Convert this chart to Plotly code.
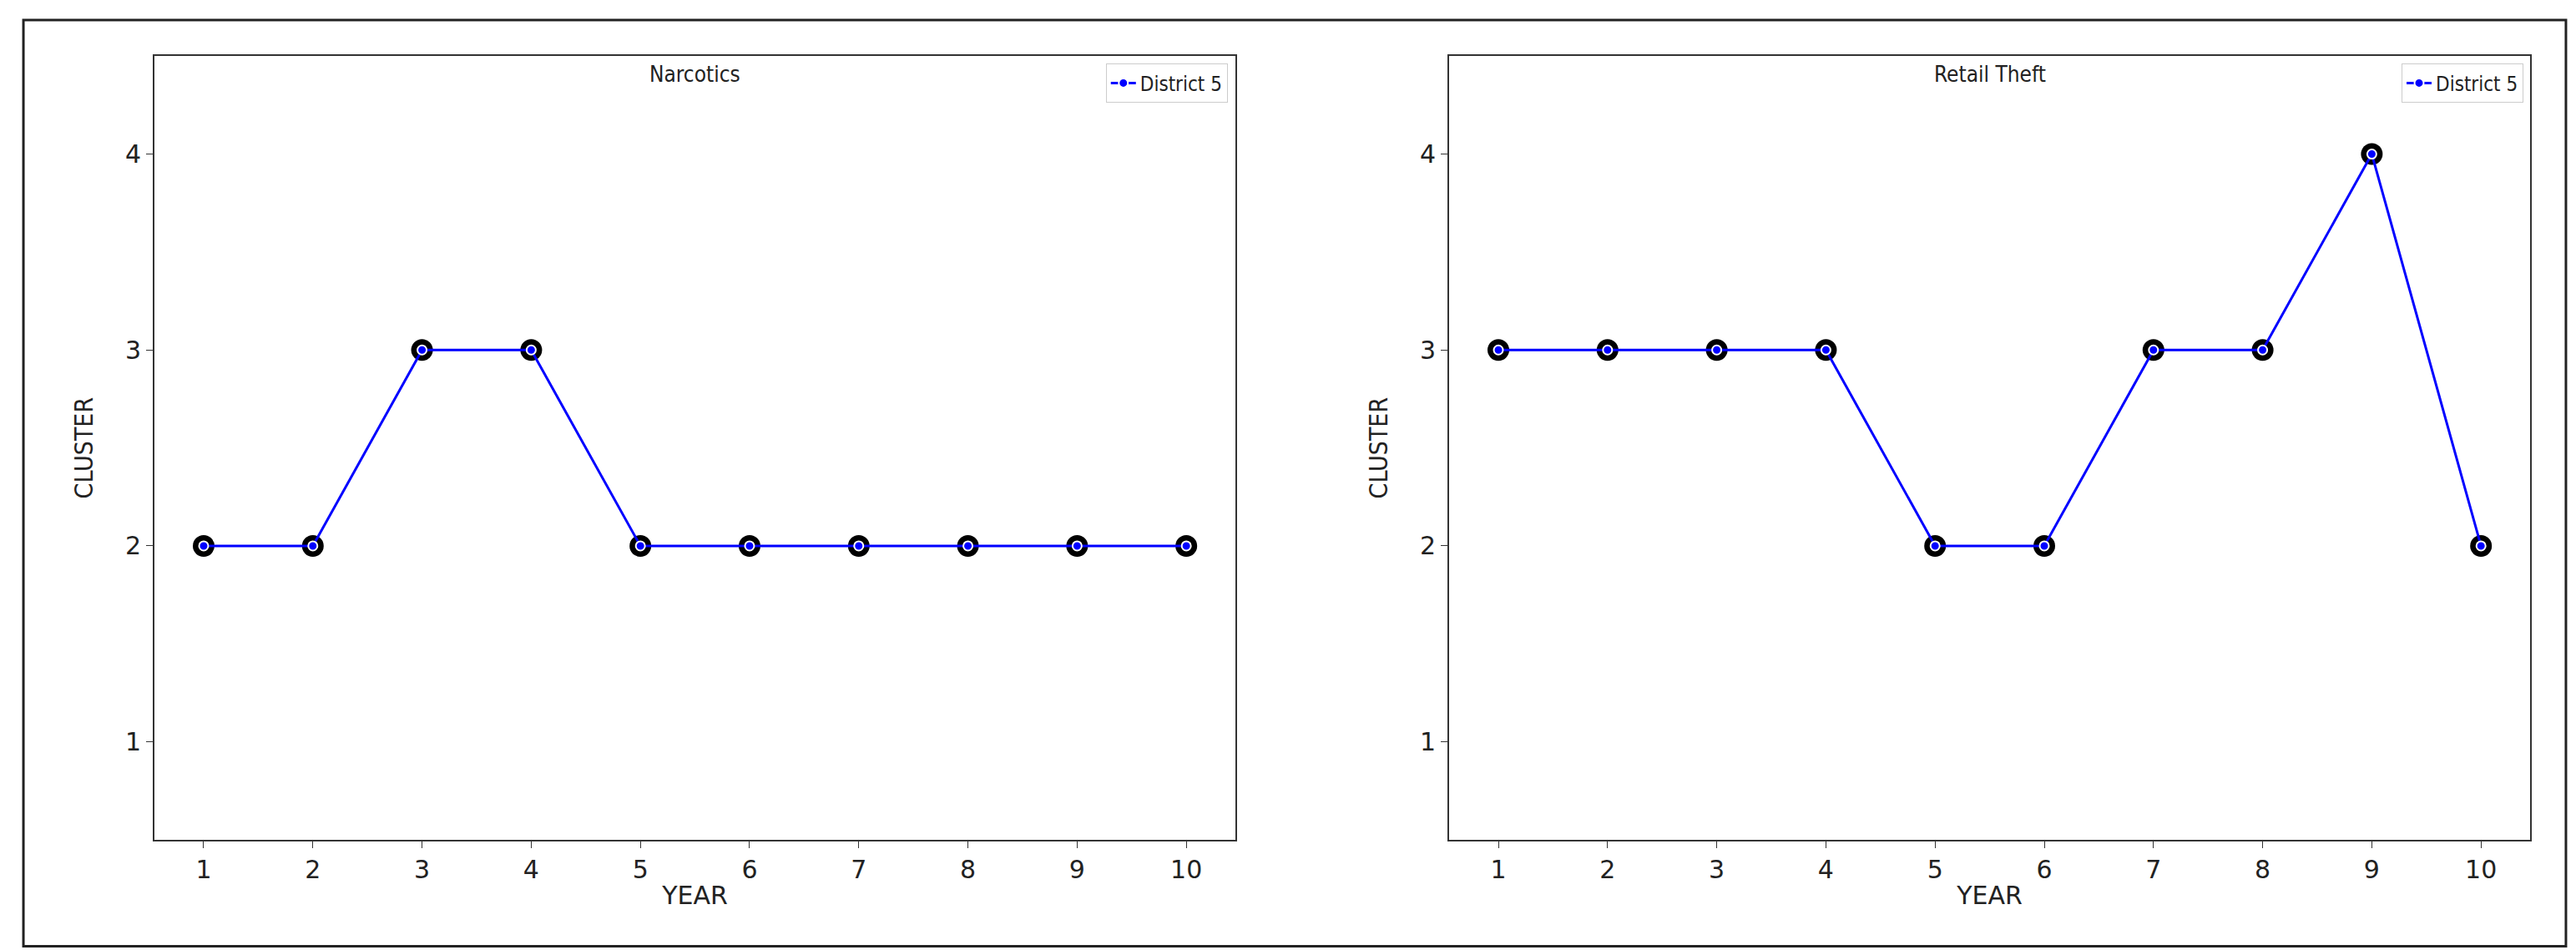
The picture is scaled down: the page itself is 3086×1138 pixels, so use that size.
import plotly.graph_objects as go

years = [1, 2, 3, 4, 5, 6, 7, 8, 9, 10]
narcotics = [2, 2, 3, 3, 2, 2, 2, 2, 2, 2]
retail_theft = [3, 3, 3, 3, 2, 2, 3, 3, 4, 2]
titles = ["Narcotics", "Retail Theft"]
series_name = "District 5"
yticks = [1, 2, 3, 4]

fig = go.Figure()
doms = [[0.0574, 0.477], [0.56, 0.9796]]
for i, (vals, title) in enumerate(zip([narcotics, retail_theft], titles)):
    xa = "x" if i == 0 else "x2"
    ya = "y" if i == 0 else "y2"
    fig.add_trace(go.Scatter(x=years, y=vals, mode="markers", xaxis=xa, yaxis=ya,
                             marker=dict(color="black", size=26), showlegend=False, hoverinfo="skip"))
    fig.add_trace(go.Scatter(x=years, y=vals, mode="lines+markers", xaxis=xa, yaxis=ya,
                             name=series_name, line=dict(color="blue", width=3),
                             marker=dict(color="blue", size=11, line=dict(color="white", width=2)),
                             legend="legend" if i == 0 else "legend2"))
    ax = dict(domain=doms[i], range=[0.55, 10.45], tickvals=years, showgrid=False, zeroline=False,
              showline=True, mirror=True, linecolor="#333", linewidth=2, ticks="outside",
              ticklen=8, tickcolor="#333", tickfont=dict(size=30, color="#222", family="DejaVu Sans"),
              title=dict(text="YEAR", font=dict(size=30, family="DejaVu Sans", color="#222"), standoff=4))
    ay = dict(domain=[0.123, 0.948], range=[0.5, 4.5], tickvals=yticks, showgrid=False, zeroline=False,
              showline=True, mirror=True, linecolor="#333", linewidth=2, ticks="outside",
              ticklen=8, tickcolor="#333", tickfont=dict(size=30, color="#222", family="DejaVu Sans"),
              title=dict(text="CLUSTER", font=dict(size=30, family="Liberation Sans Narrow, DejaVu Sans Condensed", color="#222"), standoff=30))
    if i == 0:
        fig.update_layout(xaxis=ax, yaxis=ay)
    else:
        ay["anchor"] = "x2"; ax["anchor"] = "y2"
        fig.update_layout(xaxis2=ax, yaxis2=ay)
    fig.add_annotation(text=title, xref="paper", yref="paper", x=sum(doms[i]) / 2, y=0.944,
                       xanchor="center", yanchor="top", showarrow=False,
                       font=dict(size=26, family="DejaVu Sans Condensed", color="#222"))

leg = dict(yanchor="top", y=0.94, xanchor="right", bgcolor="white", bordercolor="#ccc", borderwidth=1,
           font=dict(size=24, family="DejaVu Sans Condensed", color="#222"))
fig.update_layout(legend=dict(leg, x=0.474), legend2=dict(leg, x=0.977))
fig.add_shape(type="rect", xref="paper", yref="paper", x0=0.0065, x1=0.9935, y0=0.011, y1=0.986,
              line=dict(color="#222", width=3))
fig.update_layout(width=3086, height=1138, margin=dict(l=0, r=0, t=0, b=0),
                  plot_bgcolor="white", paper_bgcolor="white")
fig.write_html("out.html")
